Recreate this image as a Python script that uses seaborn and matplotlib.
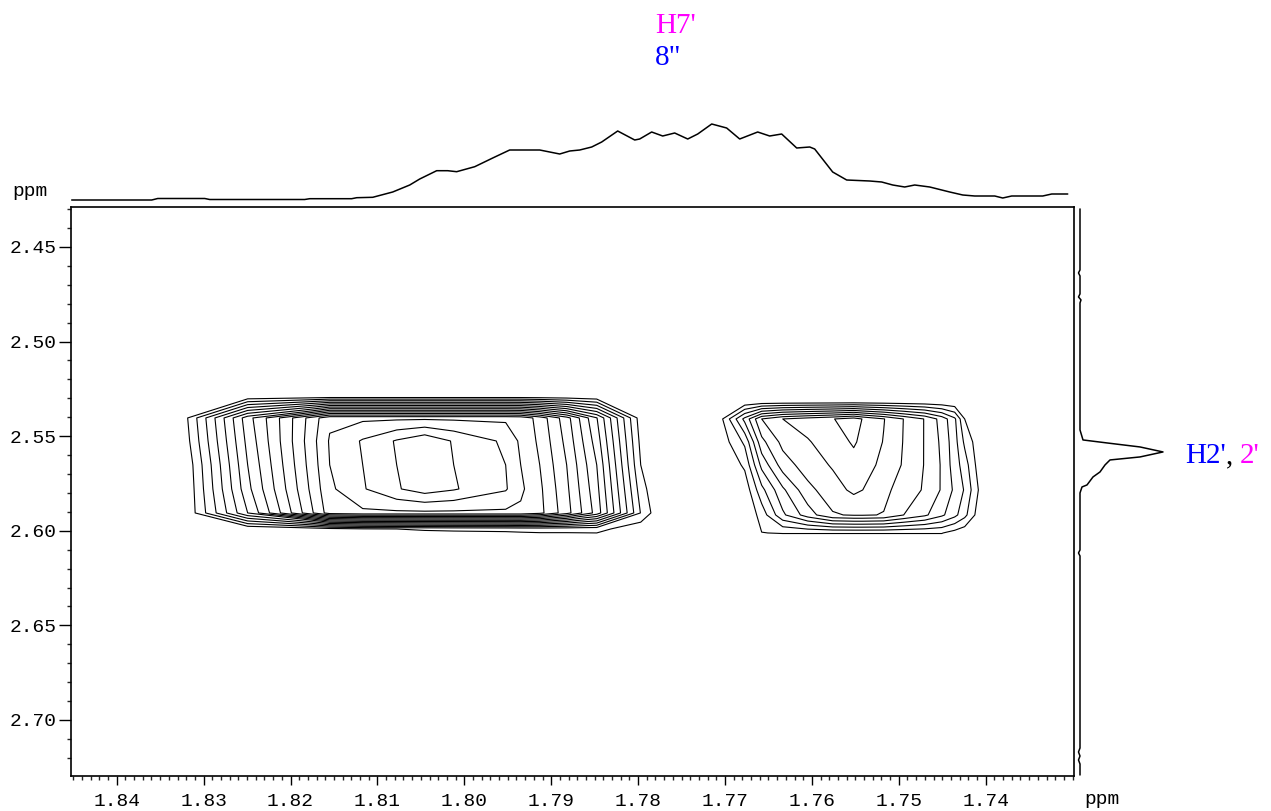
import numpy as np
import matplotlib
matplotlib.use("Agg")
import matplotlib.pyplot as plt
from matplotlib.ticker import MultipleLocator, FixedLocator, FormatStrFormatter
import seaborn as sns

# ---------------------------------------------------------------- data
# F2 (horizontal) / F1 (vertical) windows, ppm
f2_limits = [1.84526, 1.72984]
f1_limits = [2.7296, 2.4289]
f2_ticks = [1.84, 1.83, 1.82, 1.81, 1.80, 1.79, 1.78, 1.77, 1.76, 1.75, 1.74]
f1_ticks = [2.45, 2.50, 2.55, 2.60, 2.65, 2.70]

# contour levels (linear, arbitrary intensity units)
contour_levels = [1, 2, 3, 4, 5, 6, 7, 8, 9, 10, 11, 12, 13, 14, 15, 16]

# cross peak at F2 ~1.805 ppm: grid columns (F2) and rows (F1)
left_f2 = [1.83390, 1.83218, 1.82493, 1.81549, 1.81169, 1.80778, 1.80456,
           1.80122, 1.79524, 1.79351, 1.79132, 1.78822, 1.78476, 1.77970,
           1.77797, 1.77705]
left_f1 = [2.52875, 2.54038, 2.55254, 2.56522, 2.57791, 2.59059, 2.59905, 2.60751]
left_z = [
    [0, 0, 0, 0, 0, 0, 0, 0, 0, 0, 0, 0, 0, 0, 0, 0],
    [0, 0.67, 7.6, 13.8, 13.8, 13.8, 13.8, 13.8, 13.8, 13.7, 12.6, 10.4, 7.05, 0.45, 0, 0],
    [0, 0.46, 7.3, 14.1, 15.1, 16.1, 16.8, 15.9, 14.8, 13.8, 12.8, 10.7, 7.52, 0.73, 0, 0],
    [0, 0.1, 7.0, 14.0, 15.0, 16.0, 16.6, 16.0, 15.0, 14.0, 13.0, 11.0, 8.0, 1.0, 0, 0],
    [0, 0, 6.7, 13.8, 14.9, 15.9, 16.5, 16.1, 15.1, 14.2, 13.2, 11.2, 8.3, 1.48, 0.27, 0],
    [0, 0, 6.0, 13.5, 13.8, 13.8, 13.8, 13.8, 13.8, 13.8, 13.3, 11.4, 8.6, 1.95, 0.55, 0],
    [0, 0, 0, 0.6, 0.9, 1.0, 1.1, 1.15, 1.2, 1.25, 1.3, 1.3, 1.33, 0.3, 0, 0],
    [0, 0, 0, 0, 0, 0, 0, 0, 0, 0, 0, 0, 0, 0, 0, 0],
]

# cross peak at F2 ~1.755 ppm
right_f2 = [1.77153, 1.77027, 1.76773, 1.76578, 1.76336, 1.76048, 1.75761,
            1.75519, 1.75415, 1.75174, 1.74944, 1.74702, 1.74506, 1.74357,
            1.74242, 1.74035, 1.73896]
right_f1 = [2.53140, 2.54091, 2.55307, 2.56522, 2.57844, 2.59165, 2.60116, 2.60751]
right_z = [
    [0, 0, 0, 0, 0, 0, 0, 0, 0, 0, 0, 0, 0, 0, 0, 0, 0],
    [0, 1.0, 4.3, 7.0, 8.0, 8.5, 8.95, 9.5, 8.95, 8.05, 6.98, 5.95, 4.6, 3.2, 1.0, 0, 0],
    [0, 0.5, 2.2, 5.7, 7.3, 7.9, 8.6, 9.1, 8.8, 7.95, 6.95, 5.95, 4.8, 3.4, 1.8, 0, 0],
    [0, 0, 1.2, 4.3, 6.5, 7.5, 8.1, 8.7, 8.5, 7.7, 6.9, 5.95, 4.9, 3.5, 2.5, 0, 0],
    [0, 0, 0.3, 2.7, 4.8, 6.7, 7.6, 8.2, 8.0, 7.3, 6.5, 5.9, 4.9, 3.8, 2.9, 0.4, 0],
    [0, 0, 0, 1.42, 3.8, 5.5, 6.9, 7.1, 7.1, 6.95, 6.0, 5.2, 4.2, 3.3, 2.3, 0, 0],
    [0, 0, 0, 0.98, 1.05, 1.05, 1.05, 1.05, 1.05, 1.05, 1.05, 1.05, 1.05, 0.6, 0.3, 0, 0],
    [0, 0, 0, 0, 0, 0, 0, 0, 0, 0, 0, 0, 0, 0, 0, 0, 0],
]

# F2 projection (top trace)
top_ppm = [1.84518, 1.83597, 1.83528, 1.82987, 1.82930, 1.81837, 1.81779,
           1.81296, 1.81238, 1.81054, 1.80824, 1.80628, 1.80513, 1.80318,
           1.80191, 1.80088, 1.79880, 1.79673, 1.79478, 1.79132, 1.78902,
           1.78787, 1.78672, 1.78534, 1.78419, 1.78235, 1.78039, 1.77982,
           1.77844, 1.77717, 1.77579, 1.77429, 1.77314, 1.77153, 1.76981,
           1.76831, 1.76624, 1.76486, 1.76348, 1.76175, 1.76025, 1.75968,
           1.75761, 1.75600, 1.75335, 1.75197, 1.75070, 1.74932, 1.74817,
           1.74644, 1.74414, 1.74264, 1.74126, 1.73896, 1.73804, 1.73701,
           1.73344, 1.73240, 1.73056]
top_int = [0, 0, 1.5, 1.5, 0.5, 0.5, 1.3, 1.3, 2.3, 2.7, 8, 15, 21, 29.3,
           29.3, 28.3, 33.3, 42, 50, 50, 46, 49, 50, 53, 58, 69, 60, 61, 68,
           64, 67, 61, 66, 76, 72, 61, 68, 64, 66, 52, 53, 51, 28, 20, 19, 18,
           15, 13, 15, 13, 8, 5, 4, 4, 2, 4, 4, 6, 6]

# F1 projection (right trace)
side_ppm = [2.42992, 2.46216, 2.46374, 2.46533, 2.47484, 2.47643, 2.47801,
            2.47960, 2.54672, 2.55201, 2.55359, 2.55571, 2.55835, 2.56099,
            2.56258, 2.56522, 2.56892, 2.57156, 2.57579, 2.57685, 2.58002,
            2.61015, 2.61173, 2.61332, 2.71480, 2.71691, 2.71903, 2.72114,
            2.72326, 2.72907]
side_int = [0, 0, -1.5, 0, 0, -1.5, 1, 0, 0, 3, 27, 60, 83, 60, 30, 25, 20,
            13, 7, 2, 0, 0, -1.5, 0, 0, -1.5, 0, -1.5, 0, 0]

# ---------------------------------------------------------------- style
sns.set_theme(style="ticks")
plt.rcParams["font.family"] = ["Liberation Mono", "DejaVu Sans Mono"]
plt.rcParams["axes.linewidth"] = 1.2
plt.rcParams["axes.edgecolor"] = "black"

W, H = 1271, 811
fig = plt.figure(figsize=(W / 100, H / 100), dpi=100)
fig.patch.set_facecolor("white")


def fx(px):
    return px / W


def fy(py):
    return 1 - py / H


# main 2D panel
ax = fig.add_axes([fx(71), fy(776), fx(1074) - fx(71), fy(207) - fy(776)])
ax.set_facecolor("white")
ax.contour(left_f2, left_f1, np.array(left_z), levels=contour_levels,
           colors="black", linewidths=0.8)
ax.contour(right_f2, right_f1, np.array(right_z), levels=contour_levels,
           colors="black", linewidths=0.8)
ax.set_xlim(*f2_limits)
ax.set_ylim(*f1_limits)
for s in ax.spines.values():
    s.set_visible(True)
    s.set_linewidth(1.2)
    s.set_color("black")

ax.xaxis.set_major_locator(FixedLocator(f2_ticks))
ax.xaxis.set_minor_locator(MultipleLocator(0.001))
ax.yaxis.set_major_locator(FixedLocator(f1_ticks))
ax.yaxis.set_minor_locator(MultipleLocator(0.01))
ax.xaxis.set_major_formatter(FormatStrFormatter("%.2f"))
ax.yaxis.set_major_formatter(FormatStrFormatter("%.2f"))
ax.tick_params(axis="x", which="major", direction="out", length=6.5, width=1,
               pad=6, labelsize=14, colors="black", bottom=True, top=False)
ax.tick_params(axis="x", which="minor", direction="out", length=3, width=1,
               bottom=True, top=False)
ax.tick_params(axis="y", which="major", direction="out", length=8.5, width=1,
               pad=2, labelsize=14, colors="black", left=True, right=False)
ax.tick_params(axis="y", which="minor", direction="out", length=3, width=1,
               left=True, right=False)
ax.set_xlabel("")
ax.set_ylabel("")

# F2 projection above the panel
axt = fig.add_axes([fx(71), fy(203), fx(1074) - fx(71), fy(100) - fy(203)])
sns.lineplot(x=top_ppm, y=top_int, ax=axt, color="black", linewidth=1.1,
             estimator=None, sort=False)
axt.set_xlim(*f2_limits)
axt.set_ylim(-3, 100)
axt.set_axis_off()

# F1 projection right of the panel
axr = fig.add_axes([fx(1076), fy(776), fx(1176) - fx(1076), fy(207) - fy(776)])
sns.lineplot(x=side_int, y=side_ppm, ax=axr, color="black", linewidth=1.1,
             estimator=None, sort=False, orient="y")
axr.set_ylim(*f1_limits)
axr.set_xlim(-4, 96)
axr.set_axis_off()

# axis unit labels
fig.text(fx(12), fy(192), "ppm", fontsize=14, va="center", ha="left",
         color="black")
fig.text(fx(1084), fy(799), "ppm", fontsize=14, va="center", ha="left",
         color="black")

# assignment labels
serif = ["Liberation Serif", "DejaVu Serif"]
magenta, blue = "#FF00FF", "#0000FF"
fig.text(fx(655), fy(33), "H7'", family=serif, fontsize=21, color=magenta,
         ha="left", va="baseline")
fig.text(fx(655), fy(65), '8"', family=serif, fontsize=21, color=blue,
         ha="left", va="baseline")

fig.canvas.draw()
renderer = fig.canvas.get_renderer()
t1 = fig.text(fx(1185), fy(463), "H2'", family=serif, fontsize=21,
              color=blue, ha="left", va="baseline")
bb1 = t1.get_window_extent(renderer=renderer)
t2 = fig.text(bb1.x1 / W, fy(463), ",", family=serif, fontsize=21,
              color="black", ha="left", va="baseline")
bb2 = t2.get_window_extent(renderer=renderer)
fig.text((bb2.x1 + 7) / W, fy(463), "2'", family=serif, fontsize=21,
         color=magenta, ha="left", va="baseline")

fig.savefig("out.png", dpi=100, facecolor="white")
